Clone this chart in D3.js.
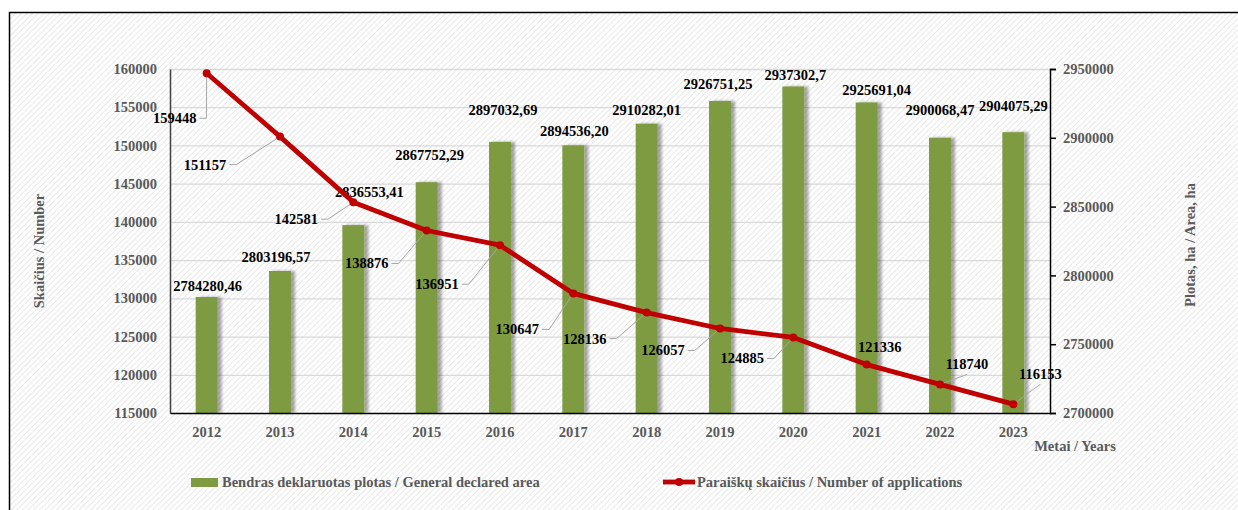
<!DOCTYPE html>
<html>
<head>
<meta charset="utf-8">
<script src="https://cdn.jsdelivr.net/npm/d3@7"></script>
<style>
html,body{margin:0;padding:0;background:#fff;}
svg{display:block;}
svg text{font-family:"Liberation Serif","Times New Roman","DejaVu Serif",serif !important;font-weight:bold;}
</style>
</head>
<body>
<svg id="chart" width="1238" height="510"></svg>
<script>
// ---- data ----
const years = ["2012","2013","2014","2015","2016","2017","2018","2019","2020","2021","2022","2023"];
const areaValues = [2784280.46, 2803196.57, 2836553.41, 2867752.29, 2897032.69, 2894536.20, 2910282.01, 2926751.25, 2937302.7, 2925691.04, 2900068.47, 2904075.29];
const areaLabels = ["2784280,46","2803196,57","2836553,41","2867752,29","2897032,69","2894536,20","2910282,01","2926751,25","2937302,7","2925691,04","2900068,47","2904075,29"];
const applications = [159448, 151157, 142581, 138876, 136951, 130647, 128136, 126057, 124885, 121336, 118740, 116153];
const leftTicks = [115000,120000,125000,130000,135000,140000,145000,150000,155000,160000];
const rightTicks = [2700000,2750000,2800000,2850000,2900000,2950000];
const seriesNames = ["Bendras deklaruotas plotas / General declared area", "Paraiškų skaičius / Number of applications"];

// ---- layout adjustments for labels (pixel nudges, not data) ----
const barLabelDx = [1,-4,16,3,3,1,0,-2,2,10,0,0];
const barLabelDy = [-11,-14,-33,-27,-32,-14,-14,-17,-11,-12,-28,-26];
const lineLabelDx = [-32,-75,-57,-60,-63,-56,-62,-57,-51,13,27,27];
const lineLabelDy = [45,28,17,33,39,36,26,22,21,-18,-20,-30];
const leaderType = ["right","right","right","right","right","right","right","right","right","none","bottom","bottom"];

const FONT = "'Liberation Serif','Times New Roman','DejaVu Serif',serif";
const svg = d3.select("#chart").attr("font-family", FONT);
const W = 1238, H = 510;
const plot = {left:170, right:1050, top:69, bottom:413};

const defs = svg.append("defs");
const pat = defs.append("pattern").attr("id","hatch").attr("patternUnits","userSpaceOnUse")
  .attr("width",4).attr("height",4).attr("patternTransform","rotate(45)");
pat.append("rect").attr("width",4).attr("height",4).attr("fill","#ffffff");
pat.append("line").attr("x1",0).attr("y1",0).attr("x2",0).attr("y2",4)
  .attr("stroke","#e2e2e2").attr("stroke-width",1.6);
const f = defs.append("filter").attr("id","shadow").attr("x","-20%").attr("y","-5%").attr("width","160%").attr("height","110%");
f.append("feDropShadow").attr("dx",4).attr("dy",0).attr("stdDeviation",1.8)
  .attr("flood-color","#000").attr("flood-opacity",0.35);

// background + frame (top and left edges only)
svg.append("rect").attr("x",10).attr("y",12.5).attr("width",W-10).attr("height",H-12.5).attr("fill","url(#hatch)");
svg.append("line").attr("x1",9.5).attr("x2",W).attr("y1",12.5).attr("y2",12.5).attr("stroke","#000").attr("stroke-width",1.5);
svg.append("line").attr("x1",9.5).attr("x2",9.5).attr("y1",12).attr("y2",H).attr("stroke","#000").attr("stroke-width",1.5);

// scales
const x = d3.scaleBand().domain(years).range([plot.left, plot.right]).paddingInner(0).paddingOuter(0);
const yL = d3.scaleLinear().domain([115000,160000]).range([plot.bottom, plot.top]);
const yR = d3.scaleLinear().domain([2700000,2950000]).range([plot.bottom, plot.top]);
const cx = d => x(d) + x.bandwidth()/2;

// gridlines
svg.append("g").selectAll("line").data(leftTicks.slice(1)).join("line")
  .attr("x1",plot.left).attr("x2",plot.right)
  .attr("y1",d=>yL(d)+0.5).attr("y2",d=>yL(d)+0.5)
  .attr("stroke","#d9d9d9").attr("stroke-width",1.3);

// bars
const barW = 22;
svg.append("g").selectAll("rect").data(areaValues).join("rect")
  .attr("x",(d,i)=>cx(years[i]) - barW/2)
  .attr("y",d=>yR(d))
  .attr("width",barW)
  .attr("height",d=>plot.bottom - yR(d))
  .attr("fill","#7e9b42")
  .attr("filter","url(#shadow)");

function styleTicks(g){
  g.attr("font-family", FONT);
  g.selectAll("text").attr("fill","#595959").attr("font-size","14.5px")
    .attr("font-family",FONT).attr("font-weight","bold");
}
// axes
const axL = svg.append("g").attr("transform",`translate(${plot.left},0)`)
  .call(d3.axisLeft(yL).tickValues(leftTicks).tickSize(0).tickPadding(13).tickFormat(d3.format("d")));
axL.select(".domain").attr("stroke","#404040").attr("stroke-width",1.5);
styleTicks(axL);

const axR = svg.append("g").attr("transform",`translate(${plot.right},0)`)
  .call(d3.axisRight(yR).tickValues(rightTicks).tickSize(6).tickPadding(7).tickFormat(d3.format("d")));
axR.select(".domain").attr("stroke","#000").attr("stroke-width",1.5);
axR.selectAll("line").attr("stroke","#000").attr("stroke-width",1.5);
styleTicks(axR);

const axB = svg.append("g").attr("transform",`translate(0,${plot.bottom})`)
  .call(d3.axisBottom(x).tickSize(0).tickPadding(14));
axB.select(".domain").attr("stroke","#000").attr("stroke-width",1.5);
styleTicks(axB);

// bar labels
svg.append("g").selectAll("text").data(areaLabels).join("text")
  .attr("x",(d,i)=>cx(years[i]) + barLabelDx[i])
  .attr("y",(d,i)=>yR(areaValues[i]) + barLabelDy[i])
  .attr("text-anchor","middle").attr("dominant-baseline","central")
  .attr("font-size","14.5px").attr("fill","#000").text(d=>d);

// line
const pts = applications.map((v,i)=>[cx(years[i]), yL(v)]);
svg.append("path").datum(pts)
  .attr("d", d3.line())
  .attr("fill","none").attr("stroke","#c00000").attr("stroke-width",4.8)
  .attr("stroke-linejoin","round");

// leader lines + labels
const lab = svg.append("g");
applications.forEach((v,i)=>{
  const px = pts[i][0], py = pts[i][1];
  const lx = px + lineLabelDx[i], ly = py + lineLabelDy[i];
  const t = lab.append("text").attr("x",lx).attr("y",ly)
    .attr("text-anchor","middle").attr("dominant-baseline","central")
    .attr("font-size","14.5px").attr("fill","#000").text(d3.format("d")(v));
  const bw = t.node().getComputedTextLength();
  let path = null;
  if (leaderType[i] === "right") {
    const sx = lx + bw/2 + 3;
    path = [[sx, ly],[sx+7, ly],[px, py]];
  } else if (leaderType[i] === "bottom") {
    path = [[lx, ly+10],[px, py]];
  }
  if (path) {
    lab.insert("path","text").attr("d", d3.line()(path))
      .attr("fill","none").attr("stroke","#a6a6a6").attr("stroke-width",1);
  }
});

// markers
svg.append("g").selectAll("circle").data(pts).join("circle")
  .attr("cx",d=>d[0]).attr("cy",d=>d[1]).attr("r",4).attr("fill","#c00000");

// axis titles
svg.append("text").attr("transform","translate(44,251) rotate(-90)")
  .attr("text-anchor","middle").attr("font-size","14.5px").attr("fill","#595959")
  .text("Skaičius / Number");
svg.append("text").attr("transform","translate(1195,245) rotate(-90)")
  .attr("text-anchor","middle").attr("font-size","14.5px").attr("fill","#595959")
  .text("Plotas, ha / Area, ha");
svg.append("text").attr("x",1075).attr("y",446).attr("text-anchor","middle")
  .attr("dominant-baseline","central").attr("font-size","14.5px").attr("fill","#595959")
  .text("Metai / Years");

// legend
const lg = svg.append("g");
lg.append("rect").attr("x",191).attr("y",478).attr("width",27).attr("height",9).attr("fill","#7e9b42");
lg.append("text").attr("x",222).attr("y",482).attr("dominant-baseline","central")
  .attr("font-size","14.5px").attr("fill","#595959").text(seriesNames[0]);
lg.append("line").attr("x1",663).attr("x2",695).attr("y1",482).attr("y2",482)
  .attr("stroke","#c00000").attr("stroke-width",4.8);
lg.append("circle").attr("cx",679).attr("cy",482).attr("r",4).attr("fill","#c00000");
lg.append("text").attr("x",697).attr("y",482).attr("dominant-baseline","central")
  .attr("font-size","14.5px").attr("fill","#595959").text(seriesNames[1]);
</script>
</body>
</html>
